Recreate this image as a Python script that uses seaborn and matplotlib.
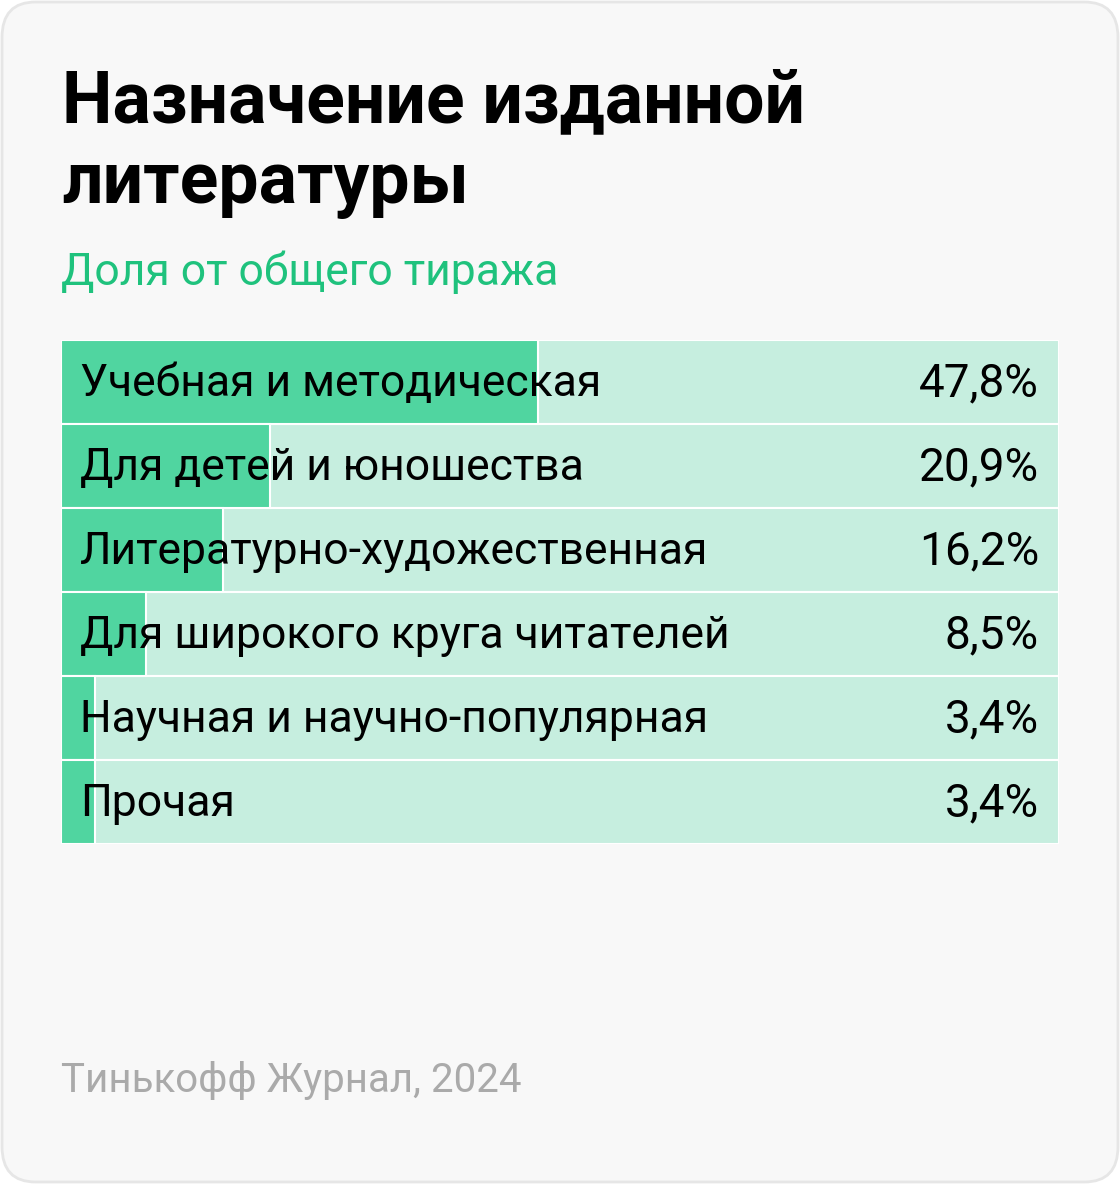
import pandas as pd
import numpy as np
import seaborn as sns
import matplotlib.pyplot as plt
from matplotlib.patches import FancyBboxPatch

categories = [
    'Учебная и методическая',
    'Для детей и юношества',
    'Литературно-художественная',
    'Для широкого круга читателей',
    'Научная и научно-популярная',
    'Прочая',
]
shares = [47.8, 20.9, 16.2, 8.5, 3.4, 3.4]
value_labels = ['47,8%', '20,9%', '16,2%', '8,5%', '3,4%', '3,4%']

title_lines = ['Назначение изданной', 'литературы']
subtitle = 'Доля от общего тиража'
source = 'Тинькофф Журнал, 2024'

df = pd.DataFrame({'cat': categories, 'share': shares, 'full': [100] * len(categories)})

sns.set_theme(style='white')
plt.rcParams['font.family'] = ['Roboto', 'DejaVu Sans']

W, H = 1120, 1184
fig = plt.figure(figsize=(W / 100, H / 100), dpi=100)
fig.patch.set_facecolor('#ffffff')

# card background (behind the axes)
card = FancyBboxPatch((2 / W, 2 / H), (W - 4) / W, (H - 4) / H,
                      boxstyle='round,pad=0,rounding_size=0.03',
                      transform=fig.transFigure, facecolor='#f8f8f8',
                      edgecolor='#e6e6e6', linewidth=2, zorder=-1)
fig.patches.append(card)

fig.text(62 / W, 1 - 122 / H, title_lines[0], fontsize=51.5, fontweight='bold',
         color='#000000', ha='left', va='baseline')
fig.text(62 / W, 1 - 203 / H, title_lines[1], fontsize=51.5, fontweight='bold',
         color='#000000', ha='left', va='baseline')
fig.text(61 / W, 1 - 285 / H, subtitle, fontsize=32, color='#1fc27d',
         ha='left', va='baseline')
fig.text(61 / W, 1 - 1092 / H, source, fontsize=29, color='#aaaaaa',
         ha='left', va='baseline')

left, right = 61 / W, 1059 / W
top, bottom = 1 - 340 / H, 1 - 844 / H
ax = fig.add_axes([left, bottom, right - left, top - bottom], zorder=2)
ax.set_facecolor('none')

sns.barplot(data=df, y='cat', x='full', orient='h', color='#c6eedf',
            width=1.0, edgecolor='white', linewidth=1.5, saturation=1, ax=ax)
sns.barplot(data=df, y='cat', x='share', orient='h', color='#50d5a0',
            width=1.0, edgecolor='white', linewidth=1.5, saturation=1, ax=ax)

ax.set_xlim(0, 100)
ax.set_ylim(len(categories) - 0.5, -0.5)
ax.set_xlabel('')
ax.set_ylabel('')
ax.set_xticks([])
ax.set_yticks([])
for s in ax.spines.values():
    s.set_visible(False)

for i, (cat, lab) in enumerate(zip(categories, value_labels)):
    ax.text(1.9, i + 0.02, cat, fontsize=32, color='#000000', ha='left', va='center')
    ax.text(98.0, i + 0.02, lab, fontsize=33, color='#000000', ha='right', va='center')

fig.savefig('out.png', dpi=100, facecolor=fig.get_facecolor())
